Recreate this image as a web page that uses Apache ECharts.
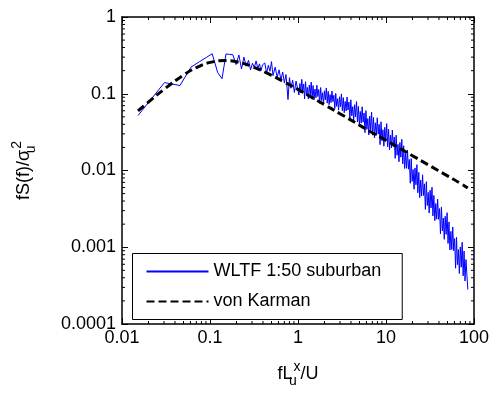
<!DOCTYPE html>
<html>
<head>
<meta charset="utf-8">
<script src="https://cdn.jsdelivr.net/npm/echarts@6/dist/echarts.min.js"></script>
<style>html,body{margin:0;padding:0;background:#fff;}#c{width:492px;height:393px;}</style>
</head>
<body>
<div id="c"></div>
<script>
// ---- data ----
var xTickLabels = ['0.01', '0.1', '1', '10', '100'];
var yTickLabels = ['0.0001', '0.001', '0.01', '0.1', '1'];
var xMinorTicks = [0.02,0.03,0.04,0.05,0.06,0.07,0.08,0.09,0.2,0.3,0.4,0.5,0.6,0.7,0.8,0.9,2,3,4,5,6,7,8,9,20,30,40,50,60,70,80,90];
var yMinorTicks = [0.0002,0.0003,0.0004,0.0005,0.0006,0.0007,0.0008,0.0009,0.002,0.003,0.004,0.005,0.006,0.007,0.008,0.009,0.02,0.03,0.04,0.05,0.06,0.07,0.08,0.09,0.2,0.3,0.4,0.5,0.6,0.7,0.8,0.9];

var blueName = 'WLTF 1:50 suburban';
var vkName = 'von Karman';

var blueX = [0.0152,0.0304,0.0456,0.0608,0.076,0.0912,0.106,0.122,0.137,0.152,0.167,0.182,0.198,0.213,0.228,0.243,0.258,0.274,0.289,0.304,0.319,0.334,0.350,0.365,0.380,0.395,
0.42,0.44,0.46,0.48,0.50,0.52,0.55,0.58,0.61,0.64,0.67,0.70,0.73,0.77,0.80,0.83,0.87,0.91,0.95,
1.000,1.025,1.051,1.077,1.104,1.131,1.160,1.189,1.218,1.249,1.280,1.312,1.345,1.379,1.413,1.448,1.485,1.522,1.560,1.599,
1.639,1.680,1.722,1.765,1.809,1.854,1.900,1.948,1.996,2.046,2.098,2.150,2.204,2.259,2.315,2.373,2.433,2.493,2.556,2.620,
2.685,2.752,2.821,2.892,2.964,3.038,3.114,3.192,3.271,3.353,3.437,3.523,3.611,3.701,3.794,3.889,3.986,4.085,4.188,4.292,
4.400,4.510,4.622,4.738,4.856,4.978,5.102,5.230,5.361,5.495,5.632,5.773,5.917,6.065,6.217,6.372,6.531,6.695,6.862,7.034,
7.210,7.390,7.575,7.764,7.958,8.157,8.361,8.570,8.784,9.004,9.229,9.460,9.696,9.939,10.19,10.44,10.70,10.97,11.25,11.53,
11.81,12.11,12.41,12.72,13.04,13.37,13.70,14.04,14.39,14.75,15.12,15.50,15.89,16.29,16.69,17.11,17.54,17.98,18.43,18.89,
19.36,19.84,20.34,20.85,21.37,21.90,22.45,23.01,23.59,24.18,24.78,25.40,26.04,26.69,27.35,28.04,28.74,29.46,30.19,30.95,
31.72,32.51,33.33,34.16,35.01,35.89,36.79,37.71,38.65,39.61,40.60,41.62,42.66,43.73,44.82,45.94,47.09,48.27,49.47,50.71,
51.98,53.28,54.61,55.97,57.37,58.81,60.28,61.78,63.33,64.91,66.53,68.20,69.90,71.65,73.44,75.28,77.16,79.09,81.06,83.09,85.17];
var blueY = [0.052,0.140,0.128,0.222,0.262,0.298,0.332,0.190,0.157,0.330,0.326,0.322,0.240,0.320,0.210,0.300,0.228,0.272,0.205,0.250,0.220,0.268,0.214,0.245,0.200,0.238,
0.252,0.185,0.235,0.196,0.262,0.172,0.222,0.165,0.205,0.150,0.192,0.138,0.178,0.084,0.162,0.118,0.150,0.104,0.146,
0.152,0.0962,0.136,0.103,0.154,0.107,0.134,0.0859,0.1435,0.0946,0.121,0.0853,0.130,0.0966,0.142,0.0873,0.128,0.0832,0.115,0.0887,
0.129,0.092,0.1135,0.0746,0.1205,0.0818,0.103,0.0741,0.1094,0.0832,0.119,0.0755,0.1076,0.0721,0.0975,0.0766,0.1086,0.0791,0.0955,0.064,
0.101,0.0685,0.0861,0.0611,0.0912,0.0678,0.0995,0.0603,0.0891,0.0565,0.0794,0.0597,0.0904,0.0614,0.0778,0.0476,0.0834,0.0518,0.0679,0.0445,
0.0719,0.050,0.0791,0.0429,0.0684,0.0393,0.0589,0.0415,0.0676,0.0426,0.056,0.0311,0.0603,0.0344,0.0475,0.029,0.0512,0.0339,0.0574,0.0289,
0.049,0.0267,0.0418,0.0287,0.0486,0.0298,0.0399,0.0217,0.0431,0.0244,0.034,0.0207,0.0366,0.0242,0.0408,0.0204,0.0345,0.0185,0.029,0.0197,
0.0337,0.0203,0.0272,0.0144,0.0288,0.0158,0.0219,0.013,0.0232,0.0149,0.0255,0.0122,0.021,0.0106,0.0166,0.0107,0.0185,0.0104,0.0139,0.00682,
0.0143,0.00721,0.0103,0.0057,0.0108,0.0065,0.0119,0.00512,0.00946,0.00443,0.0075,0.00465,0.00879,0.00473,0.0067,0.00312,0.00714,0.00349,0.00519,0.00279,
0.00553,0.00325,0.00605,0.00256,0.00473,0.00222,0.00371,0.00232,0.00424,0.00231,0.00319,0.0015,0.00335,0.00163,0.0024,0.00127,0.00253,0.00147,0.00282,0.00112,
0.00214,0.000923,0.00161,0.000933,0.00184,0.000902,0.0013,0.000533,0.00135,0.000592,0.000933,0.000455,0.00101,0.00055,0.00116,0.000423,0.000893,0.000363,0.00069,0.000698,0.000281];

var vkX = [0.0152,0.02,0.03,0.05,0.07,0.1,0.15,0.2,0.3,0.5,0.7,1,1.5,2,3,5,7,10,15,20,30,50,70,85];
var vkY = [0.060,0.078,0.114,0.175,0.219,0.256,0.271,0.261,0.227,0.174,0.142,0.114,0.087,0.072,0.055,0.039,0.031,0.0247,0.0189,0.0156,0.0119,0.0085,0.0068,0.0059];

function pairs(xs, ys) { return xs.map(function (x, i) { return [x, ys[i]]; }); }

var X_MIN = 0.01, X_MAX = 100, Y_MIN = 0.0001, Y_MAX = 1;
var FONT = '"Liberation Sans", Arial, sans-serif';
var axisCommon = {
  type: 'log', logBase: 10,
  axisLine: { show: true, onZero: false, lineStyle: { color: '#000', width: 1.5 } },
  axisTick: { show: true, inside: true, length: 6, lineStyle: { color: '#000', width: 1 } },
  minorTick: { show: false },
  splitLine: { show: false },
  minorSplitLine: { show: false }
};
function ax(extra) { return Object.assign({}, JSON.parse(JSON.stringify(axisCommon)), extra); }
var richName = {
  n: { fontSize: 18, lineHeight: 28, fontFamily: FONT, color: '#000' },
  sub: { fontSize: 14, lineHeight: 14, verticalAlign: 'bottom', width: 1, fontFamily: FONT, color: '#000' },
  sup: { fontSize: 14, lineHeight: 14, verticalAlign: 'top', fontFamily: FONT, color: '#000' }
};
var TICK_MINOR = 3;

var chart = echarts.init(document.getElementById('c'), null, { renderer: 'canvas' });
chart.setOption({
  animation: false,
  backgroundColor: '#fff',
  grid: { left: 122, right: 18, top: 17, bottom: 67, containLabel: false },
  xAxis: [
    ax({ position: 'bottom', min: X_MIN, max: X_MAX,
      axisLabel: { show: true, color: '#000', fontSize: 18, fontFamily: FONT, margin: 5,
        formatter: function (v) { var i = Math.round(Math.log10(v)) + 2; return xTickLabels[i] || ''; } },
      name: '{n|fL}{sub|u}{sup|x}{n|/U}', nameLocation: 'middle', nameGap: 36,
      nameTextStyle: { color: '#000', fontFamily: FONT, rich: richName } }),
    ax({ position: 'top', min: X_MIN, max: X_MAX, axisLabel: { show: false } })
  ],
  yAxis: [
    ax({ position: 'left', min: Y_MIN, max: Y_MAX,
      axisLabel: { show: true, color: '#000', fontSize: 18, fontFamily: FONT, margin: 6,
        formatter: function (v) { var i = Math.round(Math.log10(v)) + 4; return yTickLabels[i] || ''; } },
      name: '{n|fS(f)/σ}{sub|u}{sup|2}', nameLocation: 'middle', nameGap: 84, nameRotate: 90,
      nameTextStyle: { color: '#000', fontFamily: FONT, rich: richName } }),
    ax({ position: 'right', min: Y_MIN, max: Y_MAX, axisLabel: { show: false } })
  ],
  legend: {
    orient: 'vertical', left: 132.5, top: 253.5,
    data: [blueName, vkName],
    itemWidth: 62, itemHeight: 18, itemGap: 12,
    padding: [9, 21, 9, 13],
    borderColor: '#000', borderWidth: 1, borderRadius: 0,
    backgroundColor: '#fff',
    itemStyle: { opacity: 0 },
    textStyle: { color: '#000', fontSize: 18, fontFamily: FONT, lineHeight: 18 }
  },
  series: [
    { name: blueName, type: 'line', xAxisIndex: 0, yAxisIndex: 0, data: pairs(blueX, blueY),
      symbol: 'none', showSymbol: false, color: '#0000ff',
      lineStyle: { color: '#0000ff', width: 1 }, z: 2 },
    { name: vkName, type: 'line', xAxisIndex: 0, yAxisIndex: 0, data: pairs(vkX, vkY),
      symbol: 'none', showSymbol: false, smooth: true, color: '#000',
      lineStyle: { color: '#000', width: 3, type: [8, 4] }, z: 3 },
    { name: 'xMinor', type: 'custom', xAxisIndex: 0, yAxisIndex: 0, silent: true, clip: false, z: 4,
      data: xMinorTicks.map(function (v) { return [v, Y_MIN]; }),
      renderItem: function (params, api) {
        var b = api.coord([api.value(0), Y_MIN]);
        var t = api.coord([api.value(0), Y_MAX]);
        var st = { stroke: '#000', lineWidth: 1 };
        return { type: 'group', children: [
          { type: 'line', shape: { x1: b[0], y1: b[1], x2: b[0], y2: b[1] - TICK_MINOR }, style: st },
          { type: 'line', shape: { x1: t[0], y1: t[1], x2: t[0], y2: t[1] + TICK_MINOR }, style: st }
        ] };
      } },
    { name: 'yMinor', type: 'custom', xAxisIndex: 0, yAxisIndex: 0, silent: true, clip: false, z: 4,
      data: yMinorTicks.map(function (v) { return [X_MIN, v]; }),
      renderItem: function (params, api) {
        var l = api.coord([X_MIN, api.value(1)]);
        var r = api.coord([X_MAX, api.value(1)]);
        var st = { stroke: '#000', lineWidth: 1 };
        return { type: 'group', children: [
          { type: 'line', shape: { x1: l[0], y1: l[1], x2: l[0] + TICK_MINOR, y2: l[1] }, style: st },
          { type: 'line', shape: { x1: r[0], y1: r[1], x2: r[0] - TICK_MINOR, y2: r[1] }, style: st }
        ] };
      } }
  ]
});
</script>
</body>
</html>
